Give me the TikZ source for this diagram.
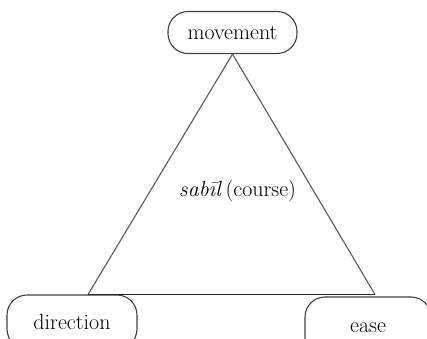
\documentclass[tikz,border=0pt]{standalone}
\begin{document}
\begin{tikzpicture}[x=1pt,y=-1pt,
  every node/.style={font=\fontsize{22}{26}\selectfont},
  termbox/.style={draw=black!75, line width=1.1pt, rounded corners=20pt,
    inner sep=0pt, align=center},
  side/.style={draw=black!65, line width=1.1pt},
  base/.style={draw=black!85, line width=1.6pt}]
\useasboundingbox (0,0) rectangle (427,338);
\clip (0,0) rectangle (427,338);
\fill[white] (0,0) rectangle (427,338);

% the three terms
\node[termbox, minimum width=129pt, minimum height=42pt] (movement) at (232.5,32.5) {movement};
\node[termbox, minimum width=130pt, minimum height=54pt] (direction) at (72,322) {direction};
\node[termbox, minimum width=126pt, minimum height=61pt] (ease) at (368,327.5) {ease};

% corners of the triangle
\coordinate (left) at (88,294.5);
\coordinate (right) at (375,294.5);

% triangle joining them
\draw[side] (movement.south) -- (left);
\draw[side] (movement.south) -- (right);
\draw[base] (left) -- (right);

% central label
\node (course) at (237.5,191) {\textit{sab\=\i l}\,(course)};
\end{tikzpicture}
\end{document}
